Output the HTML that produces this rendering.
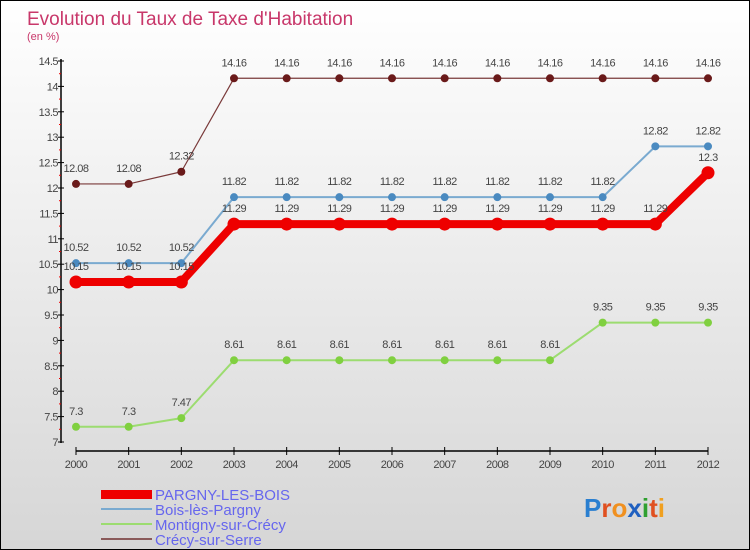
<!DOCTYPE html>
<html><head><meta charset="utf-8"><style>
body{margin:0}
#c{width:750px;height:550px;position:relative;overflow:hidden;box-sizing:border-box;border:1px solid #000;background:linear-gradient(#ffffff,#d6d6d6);font-family:"Liberation Sans",sans-serif}
</style></head><body>
<div id="c">
<svg id="s" width="750" height="550">
<text x="26" y="24" font-size="19" fill="#c8376a">Evolution du Taux de Taxe d'Habitation</text>
<text x="26" y="39" font-size="11" fill="#c8376a">(en %)</text>
<g id="axes"></g><g id="series"></g>
<g font-size="15" fill="#6666ee">
<rect x="100" y="489" width="51" height="9" fill="#e00"/>
<text x="154" y="499">PARGNY-LES-BOIS</text>
<rect x="100" y="507" width="51" height="2" fill="#7aaad0"/>
<text x="154" y="514">Bois-lès-Pargny</text>
<rect x="100" y="522" width="51" height="2" fill="#9cdc70"/>
<text x="154" y="529">Montigny-sur-Crécy</text>
<rect x="100" y="537" width="51" height="2" fill="#8a5a5a"/>
<text x="154" y="544">Crécy-sur-Serre</text>
</g>
<g font-size="26" font-weight="bold">
<text x="583" y="516"><tspan fill="#2a7fd0">P</tspan><tspan fill="#e05020">r</tspan><tspan fill="#f09020">o</tspan><tspan fill="#2060c0">x</tspan><tspan fill="#30a030">i</tspan><tspan fill="#e05020">t</tspan><tspan fill="#f0a020">i</tspan></text>
</g>
</svg></div>
<script>
const years=[2000,2001,2002,2003,2004,2005,2006,2007,2008,2009,2010,2011,2012];
const yTicks=[7,7.5,8,8.5,9,9.5,10,10.5,11,11.5,12,12.5,13,13.5,14,14.5];
const pargny=[10.15,10.15,10.15,11.29,11.29,11.29,11.29,11.29,11.29,11.29,11.29,11.29,12.3];
const bois=[10.52,10.52,10.52,11.82,11.82,11.82,11.82,11.82,11.82,11.82,11.82,12.82,12.82];
const montigny=[7.3,7.3,7.47,8.61,8.61,8.61,8.61,8.61,8.61,8.61,9.35,9.35,9.35];
const crecy=[12.08,12.08,12.32,14.16,14.16,14.16,14.16,14.16,14.16,14.16,14.16,14.16,14.16];
const NS="http://www.w3.org/2000/svg";
const xS=i=>75+i*(707-75)/(years.length-1);
const yS=v=>441-(v-7)*(441-60)/7.5;
function mk(t,a,p){const e=document.createElementNS(NS,t);for(const k in a)e.setAttribute(k,a[k]);p.appendChild(e);return e;}
const ax=document.getElementById('axes'),sg=document.getElementById('series');
let l=mk('line',{x1:60,y1:58,x2:60,y2:442,stroke:'#000','stroke-width':1.5},ax);


l=mk('line',{x1:75,y1:450,x2:707,y2:450,stroke:'#000','stroke-width':1.5},ax);


yTicks.forEach(v=>{const y=yS(v);
mk('line',{x1:57,y1:y,x2:63,y2:y,stroke:'#000'},ax);
mk('line',{x1:58,y1:y-12.7,x2:60,y2:y-12.7,stroke:v<14.5?'#e00':'none'},ax);
const t=mk('text',{x:57,y:y+4,'text-anchor':'end','font-size':11,fill:'#444','letter-spacing':'-0.5'},ax);t.textContent=v;

});
years.forEach((yr,i)=>{const x=xS(i);
mk('line',{x1:x,y1:446,x2:x,y2:454,stroke:'#000'},ax);
const t=mk('text',{x:x,y:467,'text-anchor':'middle','font-size':11,fill:'#444','letter-spacing':'-0.5'},ax);t.textContent=yr;

});
function series(d,name,col,w,r,dot){
const p=mk('polyline',{points:d.map((v,i)=>xS(i)+','+yS(v)).join(' '),fill:'none',stroke:col,'stroke-width':w,'stroke-linejoin':'round'},sg);


d.forEach((v,i)=>{const c=mk('circle',{cx:xS(i),cy:yS(v),r:r,fill:dot},sg);


const t=mk('text',{x:xS(i),y:yS(v)-12,'text-anchor':'middle','font-size':11,fill:'#444','letter-spacing':'-0.5'},sg);t.textContent=v;

});}
series(crecy,'crecy','#7a3a3a',1.2,4,'#6a1a1a');
series(montigny,'montigny','#9cdc70',2,4,'#80d040');
series(bois,'bois','#7aaad0',2,4,'#4a8ac0');
series(pargny,'pargny','#e00',8,6.5,'#e00');
</script>
</body></html>
